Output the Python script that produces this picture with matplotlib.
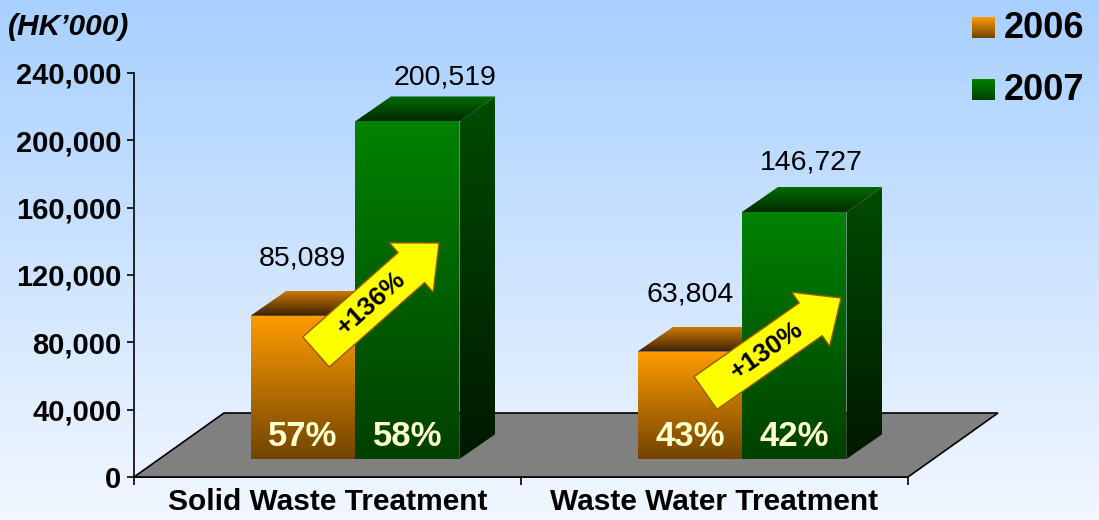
# < imports >----------------------------------------------------------------------------------

import numpy as np
import matplotlib
matplotlib.use("Agg")
import matplotlib.pyplot as plt
from matplotlib.patches import Polygon
from matplotlib.colors import LinearSegmentedColormap
from matplotlib.ticker import FuncFormatter

# < data >-------------------------------------------------------------------------------------

categories = ["Solid Waste Treatment", "Waste Water Treatment"]
years = ["2006", "2007"]
values_2006 = [85089, 63804]
values_2007 = [200519, 146727]
share_2006 = [57, 43]
share_2007 = [58, 42]
growth = [136, 130]
y_ticks = [0, 40000, 80000, 120000, 160000, 200000, 240000]

# < layout / style >---------------------------------------------------------------------------

W, H = 1099, 520
FONT = "Liberation Sans"

BAR_W = 0.27                 # bar width in category units
FRONT = np.array([27.5, 18])  # front plane of the bars, px offset from axis plane
DEPTH = np.array([36, 25])    # bar depth, px
FLOOR = np.array([90, 64])    # floor depth, px

ORANGE = dict(front=("#ff9c00", "#724400"), top=("#cc7a00", "#3a2000"), side=("#8a5200", "#2a1800"))
GREEN = dict(front=("#008200", "#004000"), top=("#006c00", "#002a00"), side=("#004c00", "#001800"))

# arrows (tail, tip) in image px (y from top)
ARROWS = [((316, 352), (439, 243)), ((705.5, 393), (841, 298))]


# ---------------------------------------------------------------------------------------------
def grad_fill(axp, verts, c_top, c_bot, zorder):
    """fill polygon with a vertical gradient"""
    poly = Polygon(verts, closed=True, facecolor="none", edgecolor="none", zorder=zorder)
    axp.add_patch(poly)
    xs, ys = zip(*verts)
    cmap = LinearSegmentedColormap.from_list("g", [c_bot, c_top])
    grad = np.linspace(0, 1, 256).reshape(-1, 1)
    im = axp.imshow(grad, cmap=cmap, extent=(min(xs), max(xs), min(ys), max(ys)),
                    origin="lower", aspect="auto", zorder=zorder, interpolation="bilinear")
    im.set_clip_path(poly)


# ---------------------------------------------------------------------------------------------
def draw_bar(axp, ax, x0, x1, value, style, zorder):
    """3D bar with front, top and side faces (display px coords)"""
    bl = ax.transData.transform((x0, 0)) + FRONT
    br = ax.transData.transform((x1, 0)) + FRONT
    tl = ax.transData.transform((x0, value)) + FRONT
    tr = ax.transData.transform((x1, value)) + FRONT
    front = [bl, br, tr, tl]
    top = [tl, tr, tr + DEPTH, tl + DEPTH]
    side = [br, br + DEPTH, tr + DEPTH, tr]
    grad_fill(axp, side, *style["side"], zorder)
    grad_fill(axp, top, *style["top"], zorder)
    grad_fill(axp, front, *style["front"], zorder + 0.1)
    return bl, br, tl, tr


# ---------------------------------------------------------------------------------------------
def draw_arrow(axp, tail, tip, label):
    t = np.array([tail[0], H - tail[1]], float)
    p = np.array([tip[0], H - tip[1]], float)
    u = (p - t) / np.linalg.norm(p - t)
    n = np.array([-u[1], u[0]])
    w, hw, hl = 20, 33, 37
    base = p - u * hl
    verts = [t + n * w, base + n * w, base + n * hw, p, base - n * hw, base - n * w, t - n * w]
    axp.add_patch(Polygon(verts, closed=True, facecolor="#ffff00", edgecolor="#9a5a00",
                          lw=1.0, zorder=10))
    c = t + (p - t) * 0.45
    ang = np.degrees(np.arctan2(u[1], u[0]))
    axp.text(c[0], c[1], label, rotation=ang, rotation_mode="anchor", ha="center", va="center",
             fontsize=19, fontweight="bold", family=FONT, color="black", zorder=11)


# ---------------------------------------------------------------------------------------------
def main():
    fig = plt.figure(figsize=(W / 100, H / 100), dpi=100)

    # background gradient
    axbg = fig.add_axes([0, 0, 1, 1], zorder=0)
    bg = LinearSegmentedColormap.from_list("bg", ["#f2f7ff", "#a8d0ff"])
    axbg.imshow(np.linspace(0, 1, 256).reshape(-1, 1), cmap=bg, origin="lower",
                aspect="auto", extent=(0, 1, 0, 1))
    axbg.axis("off")

    # value axis
    ax = fig.add_axes([134 / W, 43 / H, 774 / W, 404 / H], zorder=1)
    ax.set_facecolor("none")
    ax.set_xlim(0, 2)
    ax.set_ylim(0, 240000)
    for s in ("top", "right"):
        ax.spines[s].set_visible(False)
    ax.spines["left"].set_linewidth(1.2)
    ax.spines["bottom"].set_linewidth(1.2)
    ax.set_yticks(y_ticks)
    ax.yaxis.set_major_formatter(FuncFormatter(lambda v, _: f"{v:,.0f}"))
    ax.tick_params(axis="y", length=5, width=1.2, pad=4, labelsize=21)
    for lb in ax.get_yticklabels():
        lb.set_fontweight("bold")
        lb.set_family(FONT)
    ax.set_xticks([0, 1, 2])
    ax.set_xticklabels([])
    ax.tick_params(axis="x", which="major", length=6, width=1.2)
    ax.set_xticks([0.5, 1.5], minor=True)
    ax.set_xticklabels(categories, minor=True, fontsize=21.5, fontweight="bold", family=FONT)
    ax.tick_params(axis="x", which="minor", length=0, pad=8)

    # overlay in display px
    axp = fig.add_axes([0, 0, 1, 1], zorder=2)
    axp.set_facecolor("none")
    axp.axis("off")

    # floor
    f0 = ax.transData.transform((0, 0))
    f1 = ax.transData.transform((2, 0))
    axp.add_patch(Polygon([f0, f1, f1 + FLOOR, f0 + FLOOR], closed=True,
                          facecolor="#808080", edgecolor="black", lw=1.2, zorder=1))

    for i, c in enumerate([0.5, 1.5]):
        bl, br, tl, tr = draw_bar(axp, ax, c - BAR_W, c, values_2006[i], ORANGE, 2)
        mid = (bl[0] + br[0]) / 2
        axp.text(mid, tl[1] + 57, f"{values_2006[i]:,}", ha="center", va="center",
                 fontsize=20.5, family=FONT, zorder=12)
        axp.text(mid, bl[1] + 22, f"{share_2006[i]}%", ha="center", va="center",
                 fontsize=25, fontweight="bold", family=FONT, color="#ffffd0", zorder=12)

        bl, br, tl, tr = draw_bar(axp, ax, c, c + BAR_W, values_2007[i], GREEN, 3)
        mid = (bl[0] + br[0]) / 2
        axp.text(mid + (38 if i == 0 else 17), tl[1] + (44 if i == 0 else 50),
                 f"{values_2007[i]:,}", ha="center", va="center",
                 fontsize=20.5, family=FONT, zorder=12)
        axp.text(mid, bl[1] + 22, f"{share_2007[i]}%", ha="center", va="center",
                 fontsize=25, fontweight="bold", family=FONT, color="#ffffd0", zorder=12)

    for (tail, tip), g in zip(ARROWS, growth):
        draw_arrow(axp, tail, tip, f"+{g}%")

    # legend
    for k, (yr, st) in enumerate(zip(years, [ORANGE, GREEN])):
        ytop = H - (17 + 62 * k)
        sq = [(972, ytop - 21), (995, ytop - 21), (995, ytop), (972, ytop)]
        grad_fill(axp, sq, *st["front"], 12)
        axp.text(1004, ytop - 11, yr, ha="left", va="center", fontsize=26,
                 fontweight="bold", family=FONT, zorder=12)

    # unit
    axp.text(8, H - 27, "(HK\u2019000)", ha="left", va="center", fontsize=21.5,
             fontweight="bold", style="italic", family=FONT, zorder=12)

    axp.set_xlim(0, W)
    axp.set_ylim(0, H)

    fig.savefig("out.png", dpi=100)


if __name__ == "__main__":
    main()
